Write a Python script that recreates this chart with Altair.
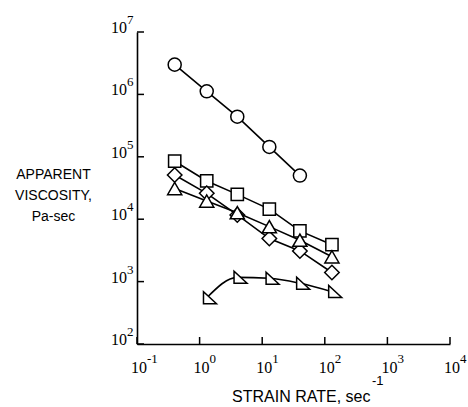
import altair as alt
import pandas as pd

# ---- data ----
rates = [0.4, 1.3, 4, 13, 40, 130]
circle_visc = [3.0e6, 1.12e6, 4.4e5, 1.44e5, 5.0e4]
square_visc = [8.5e4, 4.1e4, 2.5e4, 1.45e4, 6.5e3, 3.9e3]
diamond_visc = [5.1e4, 2.6e4, 1.17e4, 4.9e3, 3.1e3, 1.4e3]
triangle_visc = [3.1e4, 1.95e4, 1.27e4, 7.6e3, 4.6e3, 2.5e3]
wedge_rates = [1.3, 4, 13, 40, 130]
wedge_visc = [550, 1170, 1130, 940, 690]

x_exponents = [-1, 0, 1, 2, 3, 4]
y_exponents = [2, 3, 4, 5, 6, 7]

W, H = 313, 312
SERIF = "Liberation Serif"
SANS = "Liberation Sans"

xscale = alt.Scale(type="log", domain=[0.1, 1e4], nice=False)
yscale = alt.Scale(type="log", domain=[100, 1e7], nice=False)

xaxis = alt.Axis(
    values=[10.0 ** e for e in x_exponents], labels=False, ticks=False, grid=False,
    domain=True, domainColor="black", domainWidth=1.6,
    title="STRAIN RATE,  sec", titleFont=SANS, titleFontSize=16, titleFontWeight="normal",
    titleColor="black", titleAlign="right", titleBaseline="alphabetic", titleX=233, titleY=57,
)
yaxis = alt.Axis(
    values=[10.0 ** e for e in y_exponents], labels=False, ticks=False, grid=False,
    domain=True, domainColor="black", domainWidth=1.6,
    title=["APPARENT", "VISCOSITY,", "Pa-sec"], titleAngle=0, titleAlign="center",
    titleBaseline="middle", titleX=-84, titleY=142, titleLineHeight=21,
    titleFont=SANS, titleFontSize=14, titleFontWeight="normal", titleColor="black",
)

X = lambda f: alt.X(f, scale=xscale, axis=xaxis)
Y = lambda f: alt.Y(f, scale=yscale, axis=yaxis)

layers = []


def series(xs, ys, shape, size, interp="linear"):
    df = pd.DataFrame({"rate": xs, "visc": ys})
    base = alt.Chart(df).encode(x=X("rate:Q"), y=Y("visc:Q"))
    line = base.mark_line(color="black", strokeWidth=1.6, interpolate=interp)
    pts = base.mark_point(shape=shape, size=size, filled=True, fill="white",
                          stroke="black", strokeWidth=1.5, opacity=1)
    return [line, pts]


layers += series(rates[:5], circle_visc, "circle", 170)
layers += series(rates, square_visc, "square", 150)
layers += series(rates, diamond_visc, "diamond", 210)
layers += series(rates, triangle_visc, "triangle-up", 200)
layers += series(wedge_rates, wedge_visc, "M -0.5 -0.95 L -0.5 0.9 L 1.5 0.9 Z", 169, "monotone")

# ---- inward ticks ----
xt = pd.DataFrame({"v": [10.0 ** e for e in x_exponents], "exp": [str(e) for e in x_exponents]})
yt = pd.DataFrame({"v": [10.0 ** e for e in y_exponents], "exp": [str(e) for e in y_exponents]})

layers.append(alt.Chart(xt).mark_rule(color="black", strokeWidth=1.5).encode(
    x=X("v:Q"), y=alt.value(H), y2=alt.value(H - 7)))
layers.append(alt.Chart(yt).mark_rule(color="black", strokeWidth=1.5).encode(
    y=Y("v:Q"), x=alt.value(0), x2=alt.value(7)))

# ---- tick labels: 10 with exponent ----
layers.append(alt.Chart(xt).mark_text(text="10", align="center", baseline="alphabetic", dx=2,
                                      font=SERIF, fontSize=16, color="black").encode(
    x=X("v:Q"), y=alt.value(H + 29)))
layers.append(alt.Chart(xt).mark_text(align="left", baseline="alphabetic", dx=10,
                                      font=SERIF, fontSize=13, color="black").encode(
    x=X("v:Q"), y=alt.value(H + 19), text="exp:N"))
layers.append(alt.Chart(yt).mark_text(text="10", align="right", baseline="alphabetic", dy=1,
                                      font=SERIF, fontSize=16, color="black").encode(
    y=Y("v:Q"), x=alt.value(-10)))
layers.append(alt.Chart(yt).mark_text(align="left", baseline="alphabetic", dy=-8,
                                      font=SERIF, fontSize=13, color="black").encode(
    y=Y("v:Q"), x=alt.value(-10), text="exp:N"))

# exponent of the x title unit
layers.append(alt.Chart(pd.DataFrame({"t": ["-1"]})).mark_text(
    align="left", baseline="alphabetic", font=SANS, fontSize=13, color="black").encode(
    x=alt.value(235), y=alt.value(353), text="t:N"))

chart = alt.layer(*layers).properties(
    width=W, height=H,
    autosize=alt.AutoSizeParams(type="none"),
    padding={"left": 137, "top": 32, "right": 18, "bottom": 63},
    background="white",
).configure_view(stroke=None)

chart.save("out.html", embed_options={"renderer": "svg", "actions": False})
